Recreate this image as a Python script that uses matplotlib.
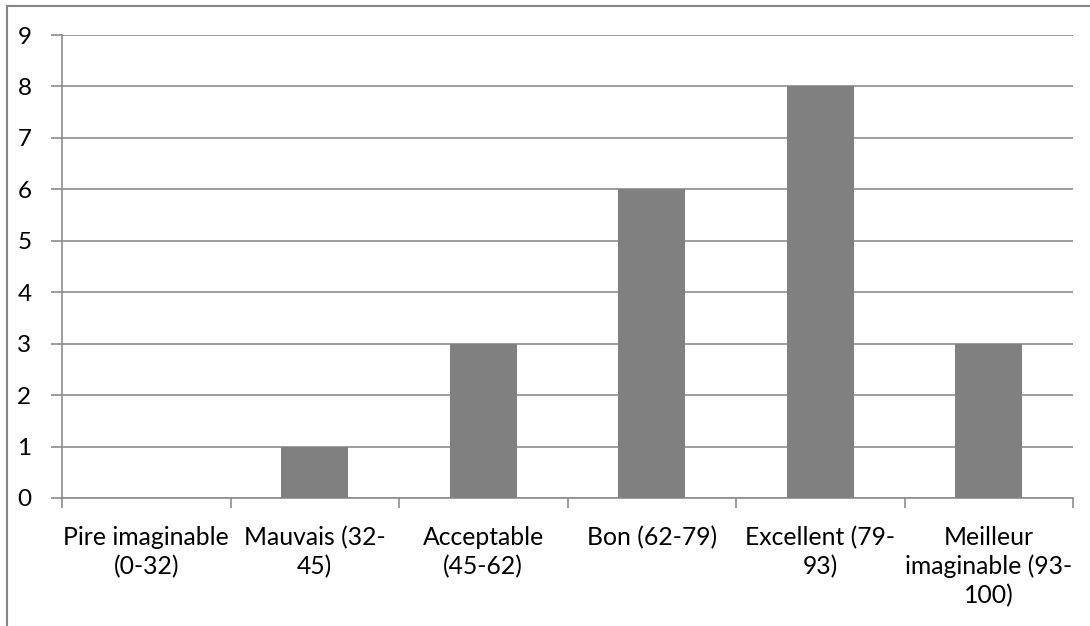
import matplotlib
matplotlib.use("Agg")
import matplotlib.pyplot as plt
from matplotlib.lines import Line2D

categories = ["Pire imaginable\n(0-32)", "Mauvais (32-\n45)", "Acceptable\n(45-62)",
              "Bon (62-79)", "Excellent (79-\n93)", "Meilleur\nimaginable (93-\n100)"]
values = [0, 1, 3, 6, 8, 3]
yticks = list(range(0, 10))

W, H = 1090, 626
fig = plt.figure(figsize=(W/100, H/100), dpi=100)
plt.rcParams['font.family'] = ['Lato', 'DejaVu Sans']

ax = fig.add_axes([62/W, (H-498)/H, (1073-62)/W, (498-35)/H])
x = list(range(len(categories)))
ax.bar(x, values, width=0.4, color="#808080", zorder=3)
ax.set_xlim(-0.5, len(categories)-0.5)
ax.set_ylim(0, 9)
ax.set_yticks(yticks)
ax.set_yticklabels([str(v) for v in yticks], fontsize=17.5)
ax.yaxis.grid(True, color="#8c8c8c", linewidth=1.2, zorder=0)
ax.set_axisbelow(True)
for s in ["top", "right"]:
    ax.spines[s].set_visible(False)
for s in ["left", "bottom"]:
    ax.spines[s].set_color("#8c8c8c")
    ax.spines[s].set_linewidth(1.2)
ax.tick_params(axis='y', length=8, width=1.2, color="#8c8c8c", pad=14)
ax.set_xticks(x)
ax.set_xticklabels(categories, fontsize=17.8, linespacing=1.3)
ax.tick_params(axis='x', length=0, pad=20)
ax.set_xticks([i - 0.5 for i in range(len(categories)+1)], minor=True)
ax.tick_params(axis='x', which='minor', length=7, width=1.2, color="#8c8c8c")

# figure border (left and top visible)
fig.add_artist(Line2D([7/W, 7/W], [0, 1-6/H], transform=fig.transFigure, color="#868686", linewidth=1.5))
fig.add_artist(Line2D([7/W, 1], [1-6/H, 1-6/H], transform=fig.transFigure, color="#868686", linewidth=1.5))

fig.savefig("out.png", dpi=100)
